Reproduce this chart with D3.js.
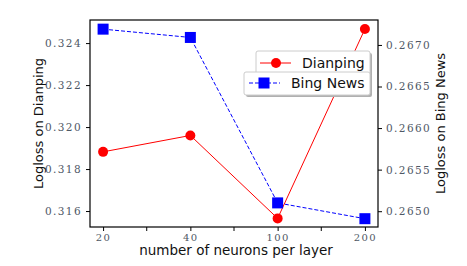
<!DOCTYPE html>
<html><head><meta charset="utf-8">
<script src="https://cdn.jsdelivr.net/npm/d3@7"></script>
<style>body{margin:0;background:#fff}svg{display:block}</style>
</head><body>
<script>
const categories = ["20", "40", "100", "200"];
const dianping = [0.31882, 0.31960, 0.31565, 0.32467];
const bingNews = [0.26719, 0.26709, 0.26510, 0.26491];
const leftTicks = [0.316, 0.318, 0.320, 0.322, 0.324];
const rightTicks = [0.2650, 0.2655, 0.2660, 0.2665, 0.2670];
const seriesNames = ["Dianping", "Bing News"];

const W = 467, H = 266;
const L = 90, R = 378, T = 20, B = 227;
const svg = d3.select("body").append("svg").attr("width", W).attr("height", H);

const x = d3.scalePoint().domain(categories).range([L, R]).padding(0.15);
const yL = d3.scaleLinear().domain([0.31524, 0.32510]).range([B, T]);
const yR = d3.scaleLinear().domain([0.26481, 0.26730]).range([B, T]);

const tickFont = "DejaVu Serif";
const tickColor = "#4f5866";

const axL = svg.append("g").attr("transform", `translate(${L},0)`)
  .call(d3.axisLeft(yL).tickValues(leftTicks).tickFormat(d3.format(".3f")).tickSize(4).tickPadding(4));
const axR = svg.append("g").attr("transform", `translate(${R},0)`)
  .call(d3.axisRight(yR).tickValues(rightTicks).tickFormat(d3.format(".4f")).tickSize(4).tickPadding(4));
const axB = svg.append("g").attr("transform", `translate(0,${B})`)
  .call(d3.axisBottom(x).tickSize(4).tickPadding(3));
const mids = categories.slice(1).map((c, i) => (x(c) + x(categories[i])) / 2);
axB.selectAll(".mid").data(mids).enter().append("line").attr("class", "mid")
  .attr("x1", d => d).attr("x2", d => d).attr("y1", 0).attr("y2", 4).attr("stroke", "#000");

[axL, axR, axB].forEach(a => {
  a.select(".domain").remove();
  a.selectAll("line").attr("stroke", "#000");
  a.selectAll("text").attr("font-family", tickFont).attr("font-size", 10.5)
    .attr("fill", tickColor).attr("letter-spacing", 1.4);
});
axB.selectAll("text").attr("font-size", 10);

svg.append("rect").attr("x", L).attr("y", T).attr("width", R - L).attr("height", B - T)
  .attr("fill", "none").attr("stroke", "#000").attr("stroke-width", 1.2);

const lineL = d3.line().x((d, i) => x(categories[i])).y(d => yL(d));
const lineR = d3.line().x((d, i) => x(categories[i])).y(d => yR(d));
svg.append("path").attr("d", lineR(bingNews)).attr("fill", "none").attr("stroke", "#0000ff")
  .attr("stroke-width", 1).attr("stroke-dasharray", "4,2");
svg.append("path").attr("d", lineL(dianping)).attr("fill", "none").attr("stroke", "#ff0000").attr("stroke-width", 1);

svg.selectAll(".sq").data(bingNews).enter().append("rect")
  .attr("x", (d, i) => x(categories[i]) - 5.5).attr("y", d => yR(d) - 5.5)
  .attr("width", 11).attr("height", 11).attr("fill", "#0000ff");
svg.selectAll(".ci").data(dianping).enter().append("circle")
  .attr("cx", (d, i) => x(categories[i])).attr("cy", d => yL(d)).attr("r", 5).attr("fill", "#ff0000");

svg.append("text").attr("transform", `translate(${(L + R) / 2 + 2},${255})`).attr("text-anchor", "middle")
  .attr("font-family", "DejaVu Sans").attr("font-size", 13.5).attr("fill", "#111")
  .text("number of neurons per layer");
svg.append("text").attr("transform", `translate(43,${(T + B) / 2}) rotate(-90)`).attr("text-anchor", "middle")
  .attr("font-family", "DejaVu Sans").attr("font-size", 13).attr("fill", "#111")
  .text("Logloss on Dianping");
svg.append("text").attr("transform", `translate(445,${(T + B) / 2}) rotate(-90)`).attr("text-anchor", "middle")
  .attr("font-family", "DejaVu Sans").attr("font-size", 13).attr("fill", "#111")
  .text("Logloss on Bing News");

function legendBox(x0, y0, w, h) {
  svg.append("rect").attr("x", x0 + 2).attr("y", y0 + 2).attr("width", w).attr("height", h)
    .attr("rx", 2).attr("fill", "#b0b0b0");
  svg.append("rect").attr("x", x0).attr("y", y0).attr("width", w).attr("height", h)
    .attr("rx", 2).attr("fill", "#fff").attr("stroke", "#ccc").attr("stroke-width", 1);
}
legendBox(256, 51, 114, 24);
svg.append("line").attr("x1", 260).attr("x2", 291).attr("y1", 63).attr("y2", 63).attr("stroke", "#ff0000");
svg.append("circle").attr("cx", 276).attr("cy", 63).attr("r", 5).attr("fill", "#ff0000");
svg.append("text").attr("x", 302).attr("y", 68).attr("font-family", "DejaVu Sans").attr("font-size", 14)
  .attr("fill", "#111").text(seriesNames[0]);

legendBox(244, 72, 126, 23);
svg.append("line").attr("x1", 249).attr("x2", 280).attr("y1", 83).attr("y2", 83).attr("stroke", "#0000ff")
  .attr("stroke-dasharray", "4,2");
svg.append("rect").attr("x", 264 - 5.5).attr("y", 83 - 5.5).attr("width", 11).attr("height", 11).attr("fill", "#0000ff");
svg.append("text").attr("x", 291).attr("y", 88).attr("font-family", "DejaVu Sans").attr("font-size", 14)
  .attr("fill", "#111").text(seriesNames[1]);
</script>
</body></html>
